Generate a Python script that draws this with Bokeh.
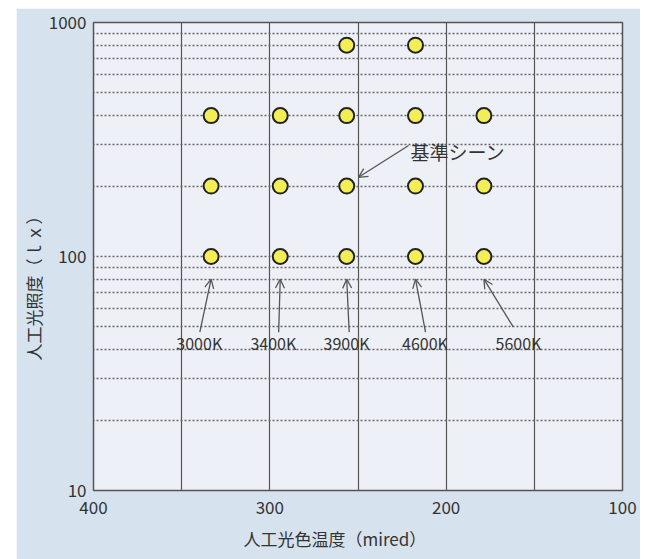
from bokeh.plotting import figure
from bokeh.models import (Range1d, FixedTicker, ColumnDataSource, Arrow, OpenHead,
                          Title, LabelSet, Label, Spacer)
from bokeh.layouts import row, column
from bokeh.embed import file_html
from bokeh.resources import INLINE
from bokeh.core.properties import value

# ---- data ----
kelvin_labels = ["3000K", "3400K", "3900K", "4600K", "5600K"]
mired_values = [333.3, 294.1, 256.4, 217.4, 178.6]
lux_3000K = [100, 200, 400]
lux_3400K = [100, 200, 400]
lux_3900K = [100, 200, 400, 800]
lux_4600K = [100, 200, 400, 800]
lux_5600K = [100, 200, 400]
series_lux = [lux_3000K, lux_3400K, lux_3900K, lux_4600K, lux_5600K]

x_ticks = [400, 300, 200, 100]
x_grid = [350, 300, 250, 200, 150]
y_ticks = [10, 100, 1000]
y_grid = [20, 30, 40, 50, 60, 70, 80, 90, 100, 200, 300, 400, 500, 600, 700, 800, 900]

# label / arrow annotation anchors (data units)
label_mired = [340, 298, 256.5, 212, 159]
label_lux = [42.5, 42.5, 42.5, 42.5, 42.5]
arrow_tail_mired = [339.7, 295, 255, 211.7, 162]
arrow_tail_lux = [47.5, 47.5, 47.5, 47.5, 50]
arrow_head_lux = [80, 80, 80, 80, 80]

ref_text = "基準シーン"
ref_text_pos = (220.2, 282)
ref_arrow_tail = (221.3, 298)
ref_arrow_head = (249.7, 218)

x_title = "人工光色温度（mired）"
y_title = "人工光照度（ｌｘ）"

FONT = "Noto Sans CJK JP"
TXT = "#333333"
PANEL = "#d6e3ef"

pt_x, pt_y = [], []
for m, lux in zip(mired_values, series_lux):
    for v in lux:
        pt_x.append(m)
        pt_y.append(v)

p = figure(width=624, height=551, x_range=Range1d(400, 100), y_range=Range1d(10, 1000),
           y_axis_type="log", output_backend="svg", toolbar_location=None,
           min_border_left=77, min_border_right=18, min_border_top=14, min_border_bottom=69)
p.background_fill_color = "#eef0f7"
p.border_fill_color = PANEL
p.outline_line_color = "#555555"
p.outline_line_width = 1.5

p.xaxis.ticker = FixedTicker(ticks=x_ticks)
p.yaxis.ticker = FixedTicker(ticks=y_ticks)
p.yaxis.major_label_overrides = {10: "10", 100: "100", 1000: "1000"}
for ax in (p.xaxis, p.yaxis):
    ax.axis_line_color = None
    ax.major_tick_line_color = None
    ax.minor_tick_line_color = None
    ax.major_tick_out = 0
    ax.major_tick_in = 0
    ax.minor_tick_out = 0
    ax.major_label_text_font = FONT
    ax.major_label_text_font_size = "17px"
    ax.major_label_text_color = TXT
p.xaxis.major_label_standoff = 10
p.yaxis.major_label_standoff = 7

p.xgrid.ticker = FixedTicker(ticks=x_grid)
p.xgrid.grid_line_color = "#555555"
p.xgrid.grid_line_width = 1.2
p.ygrid.ticker = FixedTicker(ticks=y_grid)
p.ygrid.grid_line_color = "#666666"
p.ygrid.grid_line_width = 1.5
p.ygrid.grid_line_dash = "2 2"

p.add_layout(Title(text=x_title, align="left", offset=150, text_font=FONT,
                   text_font_size="17px", text_font_style="normal", text_color=TXT,
                   standoff=15), "below")
p.add_layout(Title(text=y_title, align="left", offset=130, text_font=FONT,
                   text_font_size="17px", text_font_style="normal", text_color=TXT,
                   standoff=0), "left")

p.scatter(pt_x, pt_y, size=15, fill_color="#f3ee55", line_color="#222222", line_width=2)

src = ColumnDataSource(dict(x=label_mired, y=label_lux, t=kelvin_labels,
                            x0=arrow_tail_mired, y0=arrow_tail_lux,
                            x1=mired_values, y1=arrow_head_lux))
p.add_layout(LabelSet(x="x", y="y", text="t", source=src, text_align="center",
                      text_baseline="middle", text_font=value(FONT),
                      text_font_size="16px", text_color=TXT))
p.add_layout(Arrow(end=OpenHead(size=9, line_color="#555555", line_width=1.3),
                   x_start="x0", y_start="y0", x_end="x1", y_end="y1", source=src,
                   line_color="#555555", line_width=1.3))

p.add_layout(Label(x=ref_text_pos[0], y=ref_text_pos[1], text=ref_text, text_align="left",
                   text_baseline="middle", text_font=FONT, text_font_size="19px",
                   text_color=TXT))
p.add_layout(Arrow(end=OpenHead(size=9, line_color="#555555", line_width=1.3),
                   x_start=ref_arrow_tail[0], y_start=ref_arrow_tail[1],
                   x_end=ref_arrow_head[0], y_end=ref_arrow_head[1],
                   line_color="#555555", line_width=1.3))

layout = column(Spacer(width=640, height=8),
                row(Spacer(width=16, height=551), p))
open("out.html", "w").write(file_html(layout, INLINE))
